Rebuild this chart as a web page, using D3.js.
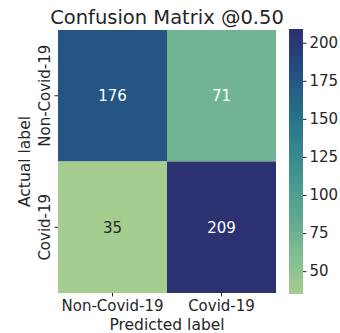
<!DOCTYPE html>
<html>
<head>
<meta charset="utf-8">
<script src="https://cdn.jsdelivr.net/npm/d3@7"></script>
<style>
  body { margin: 0; background: #fff; }
  text { font-family: "DejaVu Sans", sans-serif; fill: #262626; }
</style>
</head>
<body>
<div id="chart"></div>
<script>
// Confusion matrix data
const classes = ['Non-Covid-19', 'Covid-19'];
const matrix = [
    [176, 71],
    [35, 209],
];
const cbarTicks = [50, 75, 100, 125, 150, 175, 200];
const vmin = 35, vmax = 209;

const W = 340, H = 333;
const plot = {left: 58, top: 30, right: 276, bottom: 293};
const cbar = {left: 289, right: 303, top: 29, bottom: 294};

// approximation of seaborn "crest"
const crest = d3.interpolateRgbBasis([
    '#a5cd90', '#80bd93', '#5faa91', '#45978f', '#30828d',
    '#236b89', '#25497e', '#2c3172'
]);
const color = d3.scaleSequential(crest).domain([vmin, vmax]);

const svg = d3.select('#chart').append('svg')
    .attr('width', W)
    .attr('height', H);

const x = d3.scaleBand().domain(classes).range([plot.left, plot.right]);
const y = d3.scaleBand().domain(classes).range([plot.top, plot.bottom]);

// cells
const cells = [];
matrix.forEach((row, i) => row.forEach((v, j) => cells.push({r: classes[i], c: classes[j], v})));

svg.selectAll('rect.cell')
    .data(cells)
    .enter().append('rect')
    .attr('class', 'cell')
    .attr('x', d => x(d.c))
    .attr('y', d => y(d.r))
    .attr('width', x.bandwidth())
    .attr('height', y.bandwidth())
    .attr('fill', d => color(d.v));

svg.selectAll('text.annot')
    .data(cells)
    .enter().append('text')
    .attr('class', 'annot')
    .attr('x', d => x(d.c) + x.bandwidth() / 2)
    .attr('y', d => y(d.r) + y.bandwidth() / 2)
    .attr('dy', '0.36em')
    .attr('text-anchor', 'middle')
    .style('font-size', '15px')
    .style('fill', d => d3.hsl(color(d.v)).l < 0.6 ? '#ffffff' : '#262626')
    .text(d => d.v);

// axes
const xAxis = svg.append('g')
    .attr('transform', `translate(0,${plot.bottom})`)
    .call(d3.axisBottom(x).tickSize(3.5).tickPadding(4));
xAxis.select('.domain').remove();
xAxis.selectAll('text').style('font-size', '15px').attr('fill', '#262626');
xAxis.selectAll('line').attr('stroke', '#262626');

const yAxis = svg.append('g')
    .attr('transform', `translate(${plot.left},0)`)
    .call(d3.axisLeft(y).tickSize(3.5).tickPadding(4));
yAxis.select('.domain').remove();
yAxis.selectAll('line').attr('stroke', '#262626');
yAxis.selectAll('text')
    .style('font-size', '15px')
    .attr('fill', '#262626')
    .attr('x', 0).attr('dy', 0)
    .attr('transform', 'translate(-8,0) rotate(-90)')
    .attr('text-anchor', 'middle');

// axis titles
svg.append('text')
    .attr('x', (plot.left + plot.right) / 2)
    .attr('y', 330)
    .attr('text-anchor', 'middle')
    .style('font-size', '15.5px')
    .text('Predicted label');

svg.append('text')
    .attr('transform', `translate(30,${(plot.top + plot.bottom) / 2}) rotate(-90)`)
    .attr('text-anchor', 'middle')
    .style('font-size', '15.5px')
    .text('Actual label');

// title
svg.append('text')
    .attr('x', (plot.left + plot.right) / 2)
    .attr('y', 24)
    .attr('text-anchor', 'middle')
    .style('font-size', '19.5px')
    .text('Confusion Matrix @0.50');

// colorbar
const defs = svg.append('defs');
const grad = defs.append('linearGradient')
    .attr('id', 'cbar')
    .attr('x1', 0).attr('y1', 1).attr('x2', 0).attr('y2', 0);
d3.range(0, 1.0001, 0.05).forEach(t => {
    grad.append('stop')
        .attr('offset', t)
        .attr('stop-color', crest(t));
});
svg.append('rect')
    .attr('x', cbar.left)
    .attr('y', cbar.top)
    .attr('width', cbar.right - cbar.left)
    .attr('height', cbar.bottom - cbar.top)
    .attr('fill', 'url(#cbar)');

const cy = d3.scaleLinear().domain([vmin, vmax]).range([cbar.bottom, cbar.top]);
const cAxis = svg.append('g')
    .attr('transform', `translate(${cbar.right},0)`)
    .call(d3.axisRight(cy).tickValues(cbarTicks).tickSize(3.5).tickPadding(3));
cAxis.select('.domain').remove();
cAxis.selectAll('line').attr('stroke', '#262626');
cAxis.selectAll('text').style('font-size', '15px').attr('fill', '#262626');
</script>
</body>
</html>
